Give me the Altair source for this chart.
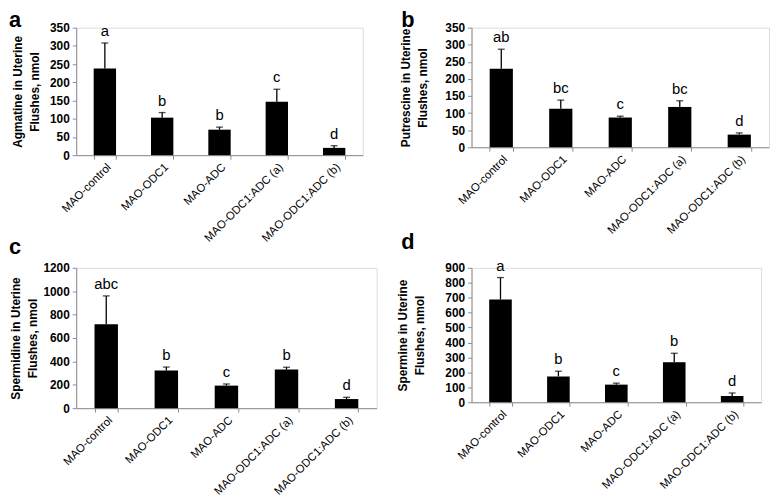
import altair as alt
import pandas as pd

groups = ["MAO-control", "MAO-ODC1", "MAO-ADC", "MAO-ODC1:ADC (a)", "MAO-ODC1:ADC (b)"]

agm_mean = [238, 103, 70, 147, 20]
agm_top = [308, 117, 77, 181, 26]
agm_sig = ["a", "b", "b", "c", "d"]

put_mean = [230, 113, 87, 118, 37]
put_top = [287, 138, 91, 136, 42]
put_sig = ["ab", "bc", "c", "bc", "d"]

spd_mean = [718, 323, 193, 330, 78]
spd_top = [960, 352, 207, 350, 93]
spd_sig = ["abc", "b", "c", "b", "d"]

spm_mean = [688, 173, 118, 268, 42]
spm_top = [835, 208, 128, 328, 62]
spm_sig = ["a", "b", "c", "b", "d"]

FONT = "Liberation Sans"
AX = "#8c8c8c"


def panel(letter, ytitle, mean, top, sig, ymax, step, w, h, ext, tpad, ldx, toff):
    df = pd.DataFrame({"g": groups, "v": mean, "t": top, "s": sig})
    x_axis = alt.Axis(title=None, labelAngle=-45, labelFontSize=11.5, labelFont=FONT,
                      labelColor="black", domainColor=AX, tickColor=AX, tickSize=4,
                      tickBand="extent", labelPadding=2, labelOverlap=False)
    xscale = alt.Scale(paddingInner=0.61, paddingOuter=0.305)
    y_axis = alt.Axis(title=ytitle, values=list(range(0, ymax + 1, step)), grid=False, format="d",
                      labelOverlap=False,
                      labelFont=FONT, labelFontSize=12, labelFontWeight="bold", labelColor="black",
                      titleFont=FONT, titleFontSize=12, titleFontWeight="bold", titleColor="black",
                      titleLineHeight=17, titlePadding=tpad, minExtent=ext, maxExtent=ext,
                      domainColor=AX, tickColor=AX, tickSize=4, labelPadding=3)
    yscale = alt.Scale(domain=[0, ymax], nice=False)

    def X():
        return alt.X("g:N", sort=groups, scale=xscale, axis=x_axis)

    def Y(field):
        return alt.Y(field, type="quantitative", scale=yscale, axis=y_axis)

    base = alt.Chart(df)
    bars = base.mark_bar(color="black").encode(x=X(), y=Y("v"))
    err = base.mark_rule(color="black", strokeWidth=1.3).encode(x=X(), y=Y("v"), y2="t:Q")
    cap = base.mark_tick(color="black", size=7, thickness=1.3, orient="horizontal").encode(
        x=X(), y=Y("t"))
    txt = base.mark_text(font=FONT, fontSize=15, dy=-7, baseline="alphabetic", color="black").encode(
        x=X(), y=Y("t"), text="s:N")
    return alt.layer(bars, err, cap, txt).properties(
        width=w, height=h,
        title=alt.TitleParams(letter, anchor="start", frame="group", font=FONT, fontSize=22,
                              fontWeight="bold", color="black", dx=ldx, offset=toff))


pa = panel("a", ["Agmatine in Uterine", "Flushes, nmol"], agm_mean, agm_top, agm_sig,
           350, 50, 290, 129, 30, 5, -68, -10)
pb = panel("b", ["Putrescine in Uterine", "Flushes, nmol"], put_mean, put_top, put_sig,
           350, 50, 301, 121, 33, 10, -71, -10)
pc = panel("c", ["Spermidine in Uterine", "Flushes, nmol"], spd_mean, spd_top, spd_sig,
           1200, 200, 304, 142, 34, 3, -68, 3)
pd_ = panel("d", ["Spermine in Uterine", "Flushes, nmol"], spm_mean, spm_top, spm_sig,
            900, 100, 293, 136, 31, 15, -71, 5)

chart = alt.concat(
    pa, pb, pc, pd_, columns=2, bounds="flush",
    spacing={"row": 114, "column": 96},
).properties(padding={"top": -3, "left": 0, "right": 0, "bottom": 0}
).configure_view(stroke=None).configure(background="white")

chart.save("out.html", embed_options={"renderer": "svg", "actions": False})
